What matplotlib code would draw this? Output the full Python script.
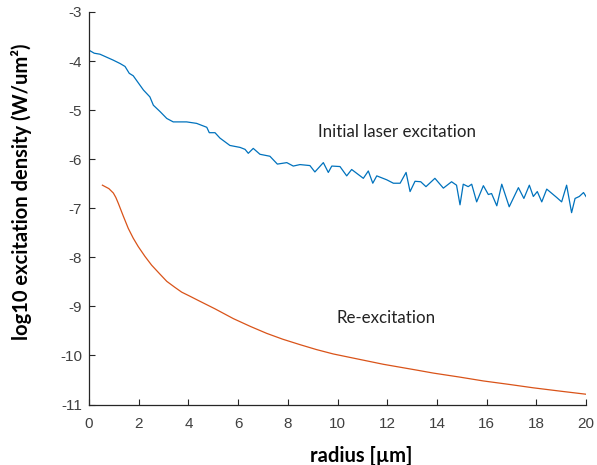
import matplotlib.pyplot as plt

plt.rcParams['font.family'] = 'Liberation Sans'
plt.rcParams['axes.unicode_minus'] = False

# initial laser excitation (blue, noisy)
r_laser = [0.0, 0.04, 0.21, 0.44, 0.97, 1.25, 1.45, 1.62, 1.78, 2.19, 2.45, 2.59, 2.86,
           3.13, 3.39, 3.93, 4.33, 4.74, 4.84, 5.07, 5.27, 5.67, 6.08, 6.28, 6.41,
           6.61, 6.88, 7.28, 7.58, 7.96, 8.22, 8.49, 8.89, 9.09, 9.43, 9.63, 9.77,
           10.10, 10.37, 10.57, 11.04, 11.24, 11.42, 11.58, 11.98, 12.25, 12.52,
           12.76, 12.92, 13.12, 13.35, 13.56, 13.92, 14.26, 14.59, 14.79, 14.93,
           15.06, 15.26, 15.40, 15.60, 15.87, 16.07, 16.20, 16.41, 16.61, 16.91,
           17.28, 17.50, 17.72, 17.88, 18.04, 18.22, 18.42, 18.82, 19.02, 19.22,
           19.42, 19.56, 19.73, 19.90, 20.0]
e_laser = [-3.78, -3.79, -3.84, -3.86, -3.98, -4.05, -4.11, -4.25, -4.30, -4.59, -4.73,
           -4.90, -5.03, -5.17, -5.24, -5.24, -5.27, -5.35, -5.46, -5.46, -5.57,
           -5.72, -5.76, -5.80, -5.88, -5.78, -5.90, -5.94, -6.10, -6.07, -6.14,
           -6.11, -6.13, -6.26, -6.07, -6.27, -6.14, -6.15, -6.34, -6.21, -6.39,
           -6.24, -6.49, -6.34, -6.42, -6.49, -6.49, -6.27, -6.66, -6.45, -6.46,
           -6.56, -6.39, -6.59, -6.46, -6.53, -6.93, -6.51, -6.56, -6.51, -6.87,
           -6.54, -6.72, -6.70, -6.95, -6.51, -6.97, -6.58, -6.80, -6.53, -6.76,
           -6.66, -6.87, -6.61, -6.78, -6.87, -6.53, -7.09, -6.80, -6.76, -6.68,
           -6.76]

# re-excitation (orange, smooth)
r_re = [0.54, 0.80, 0.98, 1.08, 1.18, 1.38, 1.58, 1.78, 1.98, 2.25, 2.52, 2.85, 3.13,
        3.45, 3.73, 4.05, 4.40, 5.07, 5.81, 6.50, 7.15, 7.80, 8.49, 9.15, 9.83,
        10.50, 11.17, 11.84, 12.52, 13.20, 13.86, 14.90, 15.87, 16.90, 17.88,
        19.00, 19.99]
e_re = [-6.53, -6.60, -6.69, -6.78, -6.90, -7.16, -7.41, -7.61, -7.78, -7.98, -8.16,
        -8.34, -8.49, -8.61, -8.71, -8.79, -8.88, -9.05, -9.25, -9.41, -9.55,
        -9.67, -9.78, -9.88, -9.97, -10.04, -10.11, -10.18, -10.24, -10.30,
        -10.36, -10.44, -10.52, -10.59, -10.66, -10.73, -10.79]

fig = plt.figure(figsize=(5.97, 4.65), dpi=100)
ax = fig.add_axes([89 / 597, 1 - 404.5 / 465, (586 - 89) / 597, (404.5 - 12) / 465])

ax.plot(r_laser, e_laser, color='#0072BD', lw=0.9)
ax.plot(r_re, e_re, color='#D95319', lw=0.9)

ax.set_xlim(0, 20)
ax.set_ylim(-11, -3)
ax.set_xticks(range(0, 21, 2))
ax.set_yticks(range(-11, -2))

for s in ['top', 'right']:
    ax.spines[s].set_visible(False)
for s in ['left', 'bottom']:
    ax.spines[s].set_color('#262626')
    ax.spines[s].set_linewidth(0.9)
ax.tick_params(direction='in', length=4, width=0.8, color='#262626',
               labelcolor='#404040', labelsize=11)
ax.tick_params(axis='x', pad=9)
ax.tick_params(axis='y', pad=5)

ax.set_xlabel('radius [µm]', fontsize=14.5, fontweight='bold', family='Lato')
ax.set_ylabel('log10 excitation density (W/um²)', fontsize=14.5, fontweight='bold',
              family='Lato')
ax.xaxis.set_label_coords(0.547, -0.105)
ax.yaxis.set_label_coords(-0.115, 0.541)

ax.text(9.2, -5.44, 'Initial laser excitation', fontsize=12.2, family='Lato',
        va='center', color='#222222')
ax.text(9.97, -9.24, 'Re-excitation', fontsize=12.2, family='Lato',
        va='center', color='#222222')

plt.savefig('out.png', dpi=100)
